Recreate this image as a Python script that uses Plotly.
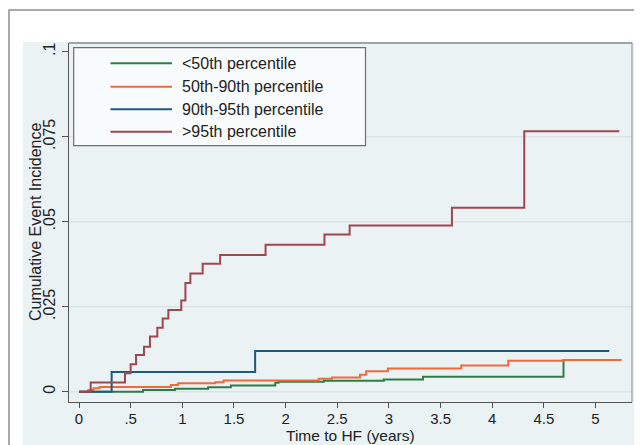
import plotly.graph_objects as go

# ---- data ----
names = ["<50th percentile", "50th-90th percentile", "90th-95th percentile", ">95th percentile"]

x_lt50 = [0, 0.62, 0.93, 1.25, 1.47, 1.90, 1.93, 2.37, 2.95, 3.33, 4.69, 5.25]
y_lt50 = [0, 0.0005, 0.0009, 0.0013, 0.0018, 0.0026, 0.0029, 0.0032, 0.0036, 0.0044, 0.0093, 0.0093]

x_50_90 = [0, 0.09, 0.14, 0.20, 0.89, 0.96, 1.32, 1.40, 2.32, 2.45, 2.72, 2.78, 2.99, 3.70, 4.155, 4.69, 5.25]
y_50_90 = [0, 0.0005, 0.0010, 0.0014, 0.0020, 0.0025, 0.0028, 0.0033, 0.0038, 0.0042, 0.0050, 0.0060, 0.0068, 0.0077, 0.0091, 0.0093, 0.0093]

x_90_95 = [0, 0.316, 1.705, 5.133]
y_90_95 = [0, 0.0058, 0.0120, 0.0120]

x_gt95 = [0, 0.113, 0.445, 0.50, 0.552, 0.629, 0.687, 0.758, 0.81, 0.865, 0.99, 1.03,
          1.078, 1.197, 1.366, 1.806, 2.376, 2.62, 3.61, 4.31, 5.23]
y_gt95 = [0, 0.0027, 0.0054, 0.0081, 0.0108, 0.0132, 0.0162, 0.0188, 0.0215, 0.0240, 0.0268, 0.0320,
          0.0348, 0.0376, 0.0402, 0.0432, 0.0462, 0.0489, 0.0541, 0.0766, 0.0766]

x_ticks = [0, 0.5, 1, 1.5, 2, 2.5, 3, 3.5, 4, 4.5, 5]
x_tick_labels = ["0", ".5", "1", "1.5", "2", "2.5", "3", "3.5", "4", "4.5", "5"]
y_ticks = [0, 0.025, 0.05, 0.075, 0.1]
y_tick_labels = ["0", ".025", ".05", ".075", ".1"]
y_grid = [0, 0.025, 0.05, 0.075]

colors = ["#2f7d46", "#f0693a", "#1f5a7c", "#a04650"]
series = [(x_lt50, y_lt50), (x_50_90, y_50_90), (x_90_95, y_90_95), (x_gt95, y_gt95)]

FONT = "Liberation Sans, Arial, sans-serif"

fig = go.Figure()
for (xs, ys), nm, c in zip(series, names, colors):
    fig.add_trace(go.Scatter(x=xs, y=ys, mode="lines", line=dict(color=c, width=2, shape="hv"),
                             name=nm, showlegend=False, hoverinfo="skip"))

# The page body has an 8px margin, so the figure is placed at (8, 8) in the window.
OFF = 8
W, H = 642 - OFF, 445 - OFF
L, R, T, B = 69 - OFF, 10, 43 - OFF, 43
pw, ph = W - L - R, H - T - B

def px_x(p):  # p: window pixel x
    return (p - OFF - L) / pw

def px_y(p):  # p: window pixel y
    return (H - B - (p - OFF)) / ph

shapes = []
# light panel behind
shapes.append(dict(type="rect", xref="paper", yref="paper", layer="below",
                   x0=px_x(23), x1=px_x(660), y0=px_y(42), y1=px_y(470),
                   fillcolor="#eaf2f4", line=dict(width=0)))
# outer frame
shapes.append(dict(type="rect", xref="paper", yref="paper", layer="below",
                   x0=px_x(9), x1=px_x(680), y0=px_y(10), y1=px_y(490),
                   fillcolor="rgba(0,0,0,0)", line=dict(color="#8e8e8e", width=1.5)))
# grid lines
for g in y_grid:
    shapes.append(dict(type="line", xref="paper", yref="y", layer="below",
                       x0=0, x1=1, y0=g, y1=g, line=dict(color="#dbe3e7", width=1.5)))
# legend box
shapes.append(dict(type="rect", xref="paper", yref="paper",
                   x0=px_x(73.7), x1=px_x(365.5), y0=px_y(145.7), y1=px_y(47.7),
                   fillcolor="#f8fbfc", line=dict(color="#6e6e6e", width=1.2)))
rows = [63.3, 86.7, 109.3, 131.7]
annotations = []
for r, nm, c in zip(rows, names, colors):
    shapes.append(dict(type="line", xref="paper", yref="paper",
                       x0=px_x(110.5), x1=px_x(172), y0=px_y(r), y1=px_y(r),
                       line=dict(color=c, width=2)))
    annotations.append(dict(xref="paper", yref="paper", x=px_x(180), y=px_y(r), text=nm,
                            showarrow=False, xanchor="left", yanchor="middle",
                            font=dict(family=FONT, size=16, color="#222")))
# axis titles
annotations.append(dict(xref="paper", yref="paper", x=px_x(350), y=px_y(445), text="Time to HF (years)",
                        showarrow=False, xanchor="center", yanchor="bottom", borderpad=0,
                        font=dict(family=FONT, size=15.5, color="#222")))
annotations.append(dict(xref="paper", yref="paper", x=px_x(35), y=px_y(222), text="Cumulative Event Incidence",
                        showarrow=False, xanchor="center", yanchor="middle", textangle=-90,
                        font=dict(family=FONT, size=16, color="#222")))

fig.update_layout(
    width=W, height=H,
    margin=dict(l=L, r=R, t=T, b=B),
    paper_bgcolor="white", plot_bgcolor="#f8fbfc",
    font=dict(family=FONT, size=16, color="#222"),
    shapes=shapes, annotations=annotations,
    showlegend=False,
)
fig.update_xaxes(range=[-0.0968, 5.353], tickvals=x_ticks, ticktext=x_tick_labels,
                 showgrid=False, zeroline=False, showline=True, linecolor="#555", linewidth=1.2,
                 mirror=False, ticks="outside", ticklen=5, tickcolor="#555",
                 ticklabelstandoff=-2,
                 tickfont=dict(family=FONT, size=15, color="#222"))
fig.update_yaxes(range=[-0.00303, 0.10256], tickvals=y_ticks, ticktext=y_tick_labels,
                 showgrid=False, zeroline=False, showline=True, linecolor="#555", linewidth=1.2,
                 mirror=False, ticks="outside", ticklen=6, tickcolor="#555", tickangle=-90,
                 ticklabelstandoff=1,
                 tickfont=dict(family=FONT, size=16, color="#222"))
# plot region border (top/right)
fig.add_shape(type="line", xref="paper", yref="paper", x0=0, x1=1, y0=1, y1=1,
              line=dict(color="#555", width=1.2))
fig.add_shape(type="line", xref="paper", yref="paper", x0=1, x1=1, y0=0, y1=1,
              line=dict(color="#9a9a9a", width=1.2))

fig.write_html("out.html")
